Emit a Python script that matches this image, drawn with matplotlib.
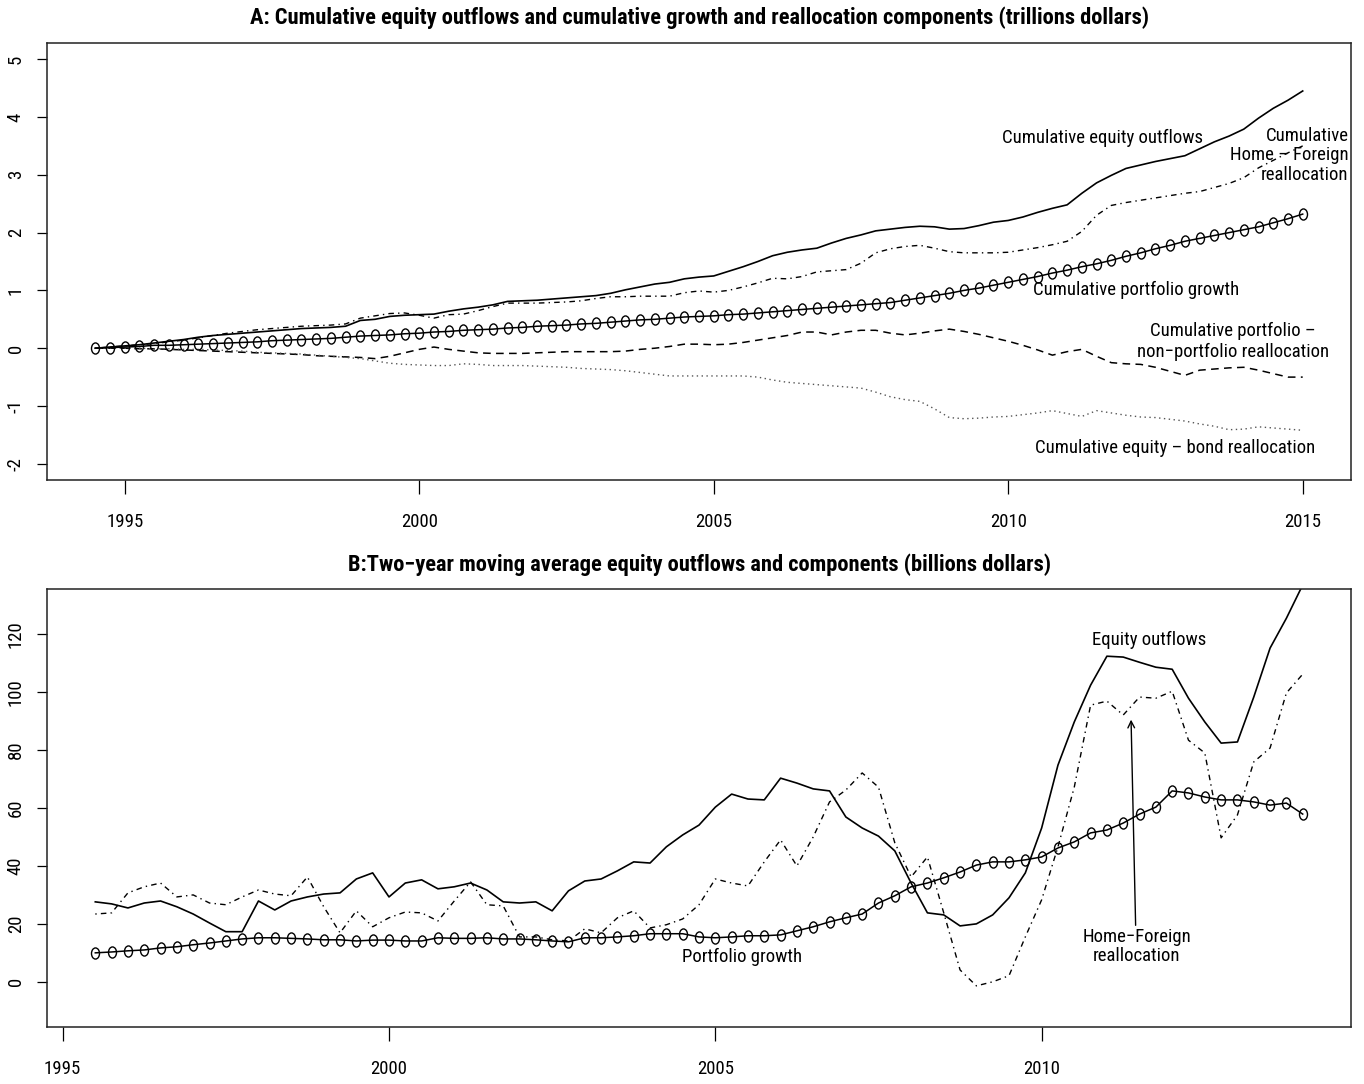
import numpy as np
import matplotlib
matplotlib.use('Agg')
import matplotlib.pyplot as plt
from matplotlib import font_manager
from matplotlib.path import Path

# the original uses a squeezed Helvetica; look for a narrow / condensed sans
narrow = None
for f in font_manager.fontManager.ttflist:
    if f.style != 'normal' or f.weight not in (400, 'normal', 'regular'):
        continue
    if 'Narrow' in f.name or 'Condensed' in f.name or f.stretch in ('condensed', 'semi-condensed'):
        if 'Mono' in f.name or 'Serif' in f.name:
            continue
        narrow = f
        if 'Liberation' in f.name or 'Roboto' in f.name:
            break

if narrow is not None:
    plt.rcParams['font.family'] = [narrow.name, 'DejaVu Sans']
    plt.rcParams['font.stretch'] = narrow.stretch
    FS = 13.5
    TITLE_FS = 16.2
else:
    plt.rcParams['font.family'] = ['Liberation Sans', 'DejaVu Sans']
    FS = 12.3
    TITLE_FS = 14

# ---- panel A: cumulative, trillions, quarterly 1994.5 .. 2015.0
years_a = 1994.5 + 0.25 * np.arange(83)

cum_outflows = [0.00, 0.02, 0.04, 0.06, 0.09, 0.12, 0.15, 0.19, 0.22, 0.24,
                0.26, 0.28, 0.30, 0.32, 0.34, 0.35, 0.36, 0.38, 0.48, 0.50,
                0.55, 0.57, 0.58, 0.59, 0.64, 0.68, 0.71, 0.75, 0.81, 0.82,
                0.83, 0.85, 0.87, 0.89, 0.91, 0.95, 1.01, 1.06, 1.11, 1.14,
                1.20, 1.23, 1.25, 1.33, 1.41, 1.50, 1.60, 1.66, 1.70, 1.73,
                1.82, 1.90, 1.96, 2.03, 2.06, 2.09, 2.11, 2.10, 2.06, 2.07,
                2.12, 2.18, 2.21, 2.27, 2.35, 2.42, 2.48, 2.68, 2.86, 2.99,
                3.11, 3.17, 3.23, 3.28, 3.33, 3.45, 3.57, 3.67, 3.79, 3.98,
                4.15, 4.29, 4.45]

cum_growth = [0.00, 0.01, 0.02, 0.03, 0.05, 0.05, 0.06, 0.07, 0.08, 0.09,
              0.10, 0.11, 0.13, 0.14, 0.15, 0.16, 0.17, 0.19, 0.21, 0.22,
              0.23, 0.25, 0.26, 0.28, 0.29, 0.31, 0.32, 0.33, 0.35, 0.36,
              0.38, 0.39, 0.40, 0.42, 0.43, 0.45, 0.47, 0.49, 0.50, 0.52,
              0.54, 0.55, 0.56, 0.58, 0.59, 0.61, 0.63, 0.65, 0.67, 0.69,
              0.71, 0.73, 0.75, 0.77, 0.79, 0.83, 0.87, 0.91, 0.95, 1.00,
              1.04, 1.09, 1.14, 1.19, 1.24, 1.30, 1.35, 1.41, 1.46, 1.52,
              1.59, 1.65, 1.72, 1.78, 1.85, 1.90, 1.95, 2.00, 2.05, 2.10,
              2.17, 2.24, 2.32]

cum_home_foreign = [0.00, 0.02, 0.04, 0.06, 0.08, 0.11, 0.14, 0.18, 0.22, 0.26,
                    0.29, 0.32, 0.34, 0.36, 0.38, 0.39, 0.40, 0.42, 0.52, 0.56,
                    0.60, 0.61, 0.57, 0.52, 0.58, 0.59, 0.65, 0.72, 0.78, 0.78,
                    0.78, 0.79, 0.80, 0.82, 0.86, 0.89, 0.89, 0.90, 0.90, 0.90,
                    0.96, 0.99, 0.97, 1.00, 1.06, 1.13, 1.21, 1.20, 1.24, 1.32,
                    1.34, 1.36, 1.47, 1.65, 1.72, 1.76, 1.78, 1.73, 1.67, 1.65,
                    1.65, 1.65, 1.66, 1.70, 1.74, 1.79, 1.85, 2.02, 2.30, 2.47,
                    2.52, 2.56, 2.60, 2.64, 2.68, 2.71, 2.78, 2.85, 2.95, 3.12,
                    3.25, 3.38, 3.50]

cum_port_nonport = [0.00, 0.00, 0.00, -0.01, -0.01, -0.02, -0.03, -0.04, -0.05, -0.06,
                    -0.07, -0.08, -0.09, -0.10, -0.11, -0.13, -0.14, -0.15, -0.16, -0.18,
                    -0.14, -0.08, -0.02, 0.02, -0.02, -0.05, -0.08, -0.09, -0.09, -0.09,
                    -0.08, -0.07, -0.06, -0.06, -0.06, -0.06, -0.05, -0.02, 0.00, 0.03,
                    0.07, 0.07, 0.06, 0.07, 0.10, 0.14, 0.18, 0.22, 0.28, 0.28,
                    0.23, 0.28, 0.31, 0.31, 0.26, 0.23, 0.26, 0.30, 0.33, 0.29,
                    0.24, 0.18, 0.12, 0.05, -0.03, -0.12, -0.06, -0.02, -0.14, -0.25,
                    -0.27, -0.28, -0.33, -0.40, -0.47, -0.38, -0.36, -0.34, -0.33, -0.38,
                    -0.44, -0.50, -0.50]

cum_equity_bond = [0.00, 0.00, 0.00, 0.00, -0.01, -0.01, -0.02, -0.02, -0.03, -0.04,
                   -0.05, -0.07, -0.08, -0.09, -0.10, -0.12, -0.14, -0.16, -0.18, -0.22,
                   -0.26, -0.28, -0.29, -0.30, -0.30, -0.27, -0.28, -0.30, -0.30, -0.30,
                   -0.31, -0.32, -0.33, -0.35, -0.36, -0.37, -0.39, -0.42, -0.45, -0.48,
                   -0.48, -0.48, -0.48, -0.48, -0.48, -0.50, -0.55, -0.59, -0.61, -0.63,
                   -0.65, -0.67, -0.69, -0.76, -0.84, -0.89, -0.92, -1.05, -1.20, -1.22,
                   -1.21, -1.19, -1.18, -1.15, -1.12, -1.08, -1.13, -1.18, -1.08, -1.12,
                   -1.16, -1.19, -1.20, -1.23, -1.26, -1.31, -1.35, -1.41, -1.40, -1.36,
                   -1.38, -1.40, -1.42]

# ---- panel B: two-year moving average, billions, quarterly 1995.5 .. 2014.0
years_b = 1995.5 + 0.25 * np.arange(75)

ma_outflows = [27.6, 26.9, 25.5, 27.2, 27.9, 25.9, 23.4, 20.3, 17.3, 17.3,
               27.9, 24.8, 27.9, 29.3, 30.3, 30.7, 35.5, 37.6, 29.3, 34.1,
               35.2, 32.1, 32.8, 34.1, 31.7, 27.6, 27.2, 27.6, 24.5, 31.4,
               34.8, 35.5, 38.3, 41.4, 41.0, 46.6, 50.7, 54.1, 60.3, 64.8,
               63.1, 62.8, 70.3, 68.6, 66.6, 65.9, 56.9, 53.1, 50.3, 45.2,
               34.1, 23.8, 23.1, 19.3, 20.0, 23.1, 29.0, 37.6, 53.1, 74.8,
               89.7, 102.4, 112.4, 112.1, 110.3, 108.6, 107.9, 97.9, 89.7, 82.4,
               82.8, 98.3, 115.2, 125.5, 137.0]

ma_home_foreign = [23.4, 23.8, 30.7, 32.8, 34.1, 29.3, 30.0, 27.2, 26.6, 29.3,
                   31.7, 30.3, 29.7, 36.2, 25.9, 16.9, 24.5, 19.0, 22.1, 24.1,
                   23.8, 21.0, 27.9, 34.5, 26.6, 26.2, 15.5, 15.5, 14.5, 14.1,
                   18.3, 16.9, 22.1, 24.5, 18.6, 19.7, 21.7, 26.6, 35.5, 34.1,
                   33.1, 41.4, 49.0, 40.0, 50.0, 62.1, 66.2, 72.1, 67.2, 48.0,
                   36.2, 43.1, 23.8, 4.1, -1.4, 0.0, 2.1, 15.5, 28.3, 46.6,
                   67.2, 95.5, 96.9, 92.1, 98.3, 97.9, 100.3, 83.4, 79.0, 49.7,
                   57.6, 75.9, 80.7, 99.7, 106.2]

ma_growth = [10.0, 10.3, 10.7, 11.0, 11.7, 12.1, 12.8, 13.4, 14.1, 14.8,
             15.2, 15.2, 15.0, 14.8, 14.5, 14.5, 14.1, 14.4, 14.4, 14.1,
             14.1, 15.2, 15.0, 15.0, 15.2, 14.8, 14.8, 14.5, 14.1, 13.8,
             15.2, 15.2, 15.5, 15.9, 16.6, 16.6, 16.6, 15.5, 15.2, 15.5,
             15.9, 15.9, 16.2, 17.6, 19.0, 20.7, 22.1, 23.4, 27.2, 29.7,
             32.8, 34.1, 35.9, 37.9, 40.3, 41.4, 41.4, 42.1, 43.1, 46.2,
             48.3, 51.4, 52.4, 54.8, 57.9, 60.3, 65.9, 65.2, 63.8, 62.8,
             62.8, 62.1, 61.0, 61.7, 57.9]

xticks_a = [1995, 2000, 2005, 2010, 2015]
yticks_a = [-2, -1, 0, 1, 2, 3, 4, 5]
xticks_b = [1995, 2000, 2005, 2010]
yticks_b = [0, 20, 40, 60, 80, 100, 120]

# R line types
DASHED = (0, (5, 3.5))
DOTTED = (0, (1, 2.5))
DOTDASH = (0, (1, 3, 4, 3))

# open circle squeezed horizontally like in the original
uc = Path.unit_circle()
ellipse = Path(uc.vertices * np.array([0.72, 1.0]), uc.codes)

fig = plt.figure(figsize=(13.64, 10.84), dpi=100)
ax1 = fig.add_axes([47/1364, 1-480/1084, 1304/1364, 437/1084])
ax2 = fig.add_axes([47/1364, 1-1027/1084, 1304/1364, 438/1084])


def style_axes(ax, xt, yt):
    ax.set_xticks(xt)
    ax.set_yticks(yt)
    ax.set_yticklabels([str(v) for v in yt], rotation=90, va='center')
    ax.tick_params(axis='x', direction='out', length=10, width=0.9, pad=14, labelsize=FS)
    ax.tick_params(axis='y', direction='out', length=7, width=0.9, pad=9, labelsize=FS)
    for s in ax.spines.values():
        s.set_linewidth(1.1)
        s.set_color('#222222')


# ---- A
ax1.plot(years_a, cum_outflows, color='black', lw=1.2)
ax1.plot(years_a, cum_home_foreign, color='black', lw=1.0, linestyle=DOTDASH)
ax1.plot(years_a, cum_port_nonport, color='black', lw=1.1, linestyle=DASHED)
ax1.plot(years_a, cum_equity_bond, color='#555555', lw=1.0, linestyle=DOTTED)
ax1.plot(years_a, cum_growth, color='black', lw=1.1, marker=ellipse, markersize=8,
         markerfacecolor='none', markeredgecolor='black', markeredgewidth=1.0)
ax1.set_xlim(1994.5 - 0.82, 2015 + 0.82)
ax1.set_ylim(-2.28, 5.28)
style_axes(ax1, xticks_a, yticks_a)

ax1.text(2011.6, 3.64, 'Cumulative equity outflows', ha='center', va='center', fontsize=FS)
ax1.text(2015.78, 3.34, 'Cumulative\nHome \u2013 Foreign\nreallocation', ha='right', va='center',
         fontsize=FS, linespacing=1.1)
ax1.text(2012.17, 1.0, 'Cumulative portfolio growth', ha='center', va='center', fontsize=FS)
ax1.text(2013.81, 0.12, 'Cumulative portfolio \u2013\nnon\u2212portfolio reallocation', ha='center',
         va='center', fontsize=FS, linespacing=1.2)
ax1.text(2012.83, -1.73, 'Cumulative equity \u2013 bond reallocation', ha='center', va='center', fontsize=FS)

# ---- B
ax2.plot(years_b, ma_outflows, color='black', lw=1.2)
ax2.plot(years_b, ma_home_foreign, color='black', lw=1.0, linestyle=DOTDASH)
ax2.plot(years_b, ma_growth, color='black', lw=1.1, marker=ellipse, markersize=8,
         markerfacecolor='none', markeredgecolor='black', markeredgewidth=1.0)
ax2.set_xlim(1995.5 - 0.74, 2014 + 0.74)
ax2.set_ylim(-15.6, 135.6)
style_axes(ax2, xticks_b, yticks_b)

ax2.text(2011.65, 117.9, 'Equity outflows', ha='center', va='center', fontsize=FS)
ax2.text(2011.46, 12.1, 'Home\u2212Foreign\nreallocation', ha='center', va='center', fontsize=FS,
         linespacing=1.1)
ax2.annotate('', xy=(2011.37, 90.5), xytext=(2011.44, 19.5),
             arrowprops=dict(arrowstyle='->', lw=1.0, color='black', mutation_scale=12,
                             shrinkA=0, shrinkB=0))
ax2.text(2005.41, 8.6, 'Portfolio growth', ha='center', va='center', fontsize=FS)

cx = (47 + 1351) / 2 / 1364
fig.text(cx, 1 - 18/1084, 'A: Cumulative equity outflows and cumulative growth and reallocation components (trillions dollars)',
         ha='center', va='center', fontsize=TITLE_FS, fontweight='bold')
fig.text(cx, 1 - 565/1084, 'B:Two\u2212year moving average equity outflows and components (billions dollars)',
         ha='center', va='center', fontsize=TITLE_FS, fontweight='bold')

fig.savefig('out.png', dpi=100)
